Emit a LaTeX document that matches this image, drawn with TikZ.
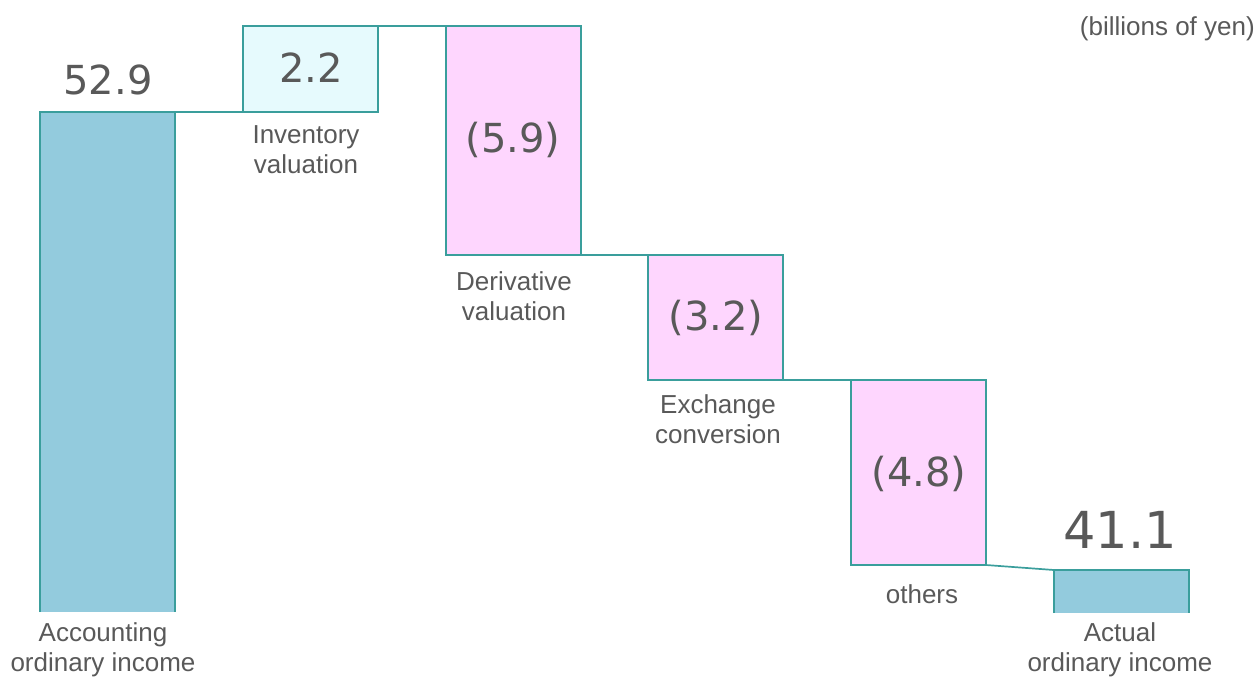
\documentclass[tikz,border=0pt]{standalone}
\usepackage{fontspec}
\setmainfont{Liberation Sans}
\newfontfamily\numfont{DejaVu Sans}
\definecolor{edgec}{HTML}{3A9E9C}
\definecolor{totc}{HTML}{93CBDD}
\definecolor{upc}{HTML}{E6FAFD}
\definecolor{downc}{HTML}{FED6FE}
\definecolor{txtc}{HTML}{595959}
\begin{document}
\begin{tikzpicture}[x=1pt,y=-1pt,
  barbox/.style={draw=edgec,line width=1.7pt,anchor=north west,inner sep=0pt,outer sep=0pt,minimum width=135pt},
  openbar/.style={fill=totc,anchor=north west,inner sep=0pt,outer sep=0pt,minimum width=135pt},
  edge/.style={draw=edgec,line width=1.7pt},
  val/.style={font=\numfont\fontsize{40}{42}\selectfont,text=txtc,inner sep=0pt},
  lbl/.style={font=\fontsize{26}{30}\selectfont,text=txtc,align=center,inner sep=0pt}]
\useasboundingbox (0,0) rectangle (1257,678);
% bars
\node[openbar,minimum height=500pt] (b1) at (40,112) {};
\node[barbox,fill=upc,minimum height=86pt] (b2) at (243,26) {};
\node[barbox,fill=downc,minimum height=229pt] (b3) at (446,26) {};
\node[barbox,fill=downc,minimum height=125pt] (b4) at (648,255) {};
\node[barbox,fill=downc,minimum height=185pt] (b5) at (851,380) {};
\node[openbar,minimum height=43pt] (b6) at (1054,570) {};
\draw[edge] (b1.south west) -- (b1.north west) -- (b1.north east) -- (b1.south east);
\draw[edge] (b6.south west) -- (b6.north west) -- (b6.north east) -- (b6.south east);
% connectors
\draw[edge] (b1.north east) -- (b2.south west);
\draw[edge] (b2.north east) -- (b3.north west);
\draw[edge] (b3.south east) -- (b4.north west);
\draw[edge] (b4.south east) -- (b5.north west);
\draw[edge] (b5.south east) -- (b6.north west);
% values
\node[val] (v1) at (108,80) {52.9};
\node[val] (v2) at (311,68) {2.2};
\node[val] (v3) at (513,140) {(5.9)};
\node[val] (v4) at (716,318) {(3.2)};
\node[val] (v5) at (919,474) {(4.8)};
\node[val,font=\numfont\fontsize{51}{53}\selectfont] (v6) at (1120,530) {41.1};
% labels
\node[lbl] (l1) at (103,650) {Accounting\\ordinary income};
\node[lbl] (l2) at (306,150) {Inventory\\valuation};
\node[lbl] (l3) at (514,296) {Derivative\\valuation};
\node[lbl] (l4) at (718,419) {Exchange\\conversion};
\node[lbl] (l5) at (922,594) {others};
\node[lbl] (l6) at (1120,650) {Actual\\ordinary income};
\node[lbl,anchor=east] (unit) at (1255,29) {(billions of yen)};
\end{tikzpicture}
\end{document}
